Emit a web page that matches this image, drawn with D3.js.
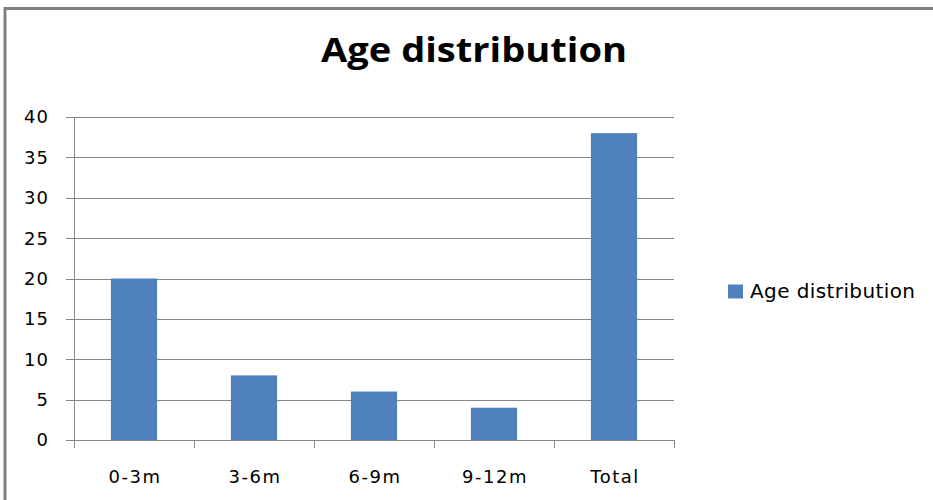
<!DOCTYPE html>
<html>
<head>
<meta charset="utf-8">
<script src="https://cdn.jsdelivr.net/npm/d3@7"></script>
<style>
  html, body { margin: 0; background: #fff; overflow: hidden; }
  svg { display: block; }
</style>
</head>
<body>
<svg id="chart"></svg>
<script>
const categories = ["0-3m", "3-6m", "6-9m", "9-12m", "Total"];
const values = [20, 8, 6, 4, 38];
const yTicks = [0, 5, 10, 15, 20, 25, 30, 35, 40];
const seriesName = "Age distribution";
const title = "Age distribution";

const width = 933;
const height = 500;
const barColor = "#4f81bd";
const gridColor = "#868686";

const svg = d3.select("#chart").attr("width", width).attr("height", height);

// outer frame: only the top and left edges show, the rest is off-page
svg
  .append("path")
  .attr("d", "M5," + height + "V8.5H" + width)
  .attr("fill", "none")
  .attr("stroke", "#808080")
  .attr("stroke-width", 3);

const x = d3
  .scaleBand()
  .domain(categories)
  .range([74, 674])
  .paddingInner(0.615)
  .paddingOuter(0.3075);

const y = d3.scaleLinear().domain([0, 40]).range([440, 117]);

// gridlines + y ticks
svg
  .selectAll(".grid")
  .data(yTicks)
  .enter()
  .append("line")
  .attr("class", "grid")
  .attr("x1", 66)
  .attr("x2", (d) => (d === 0 ? 74 : 674))
  .attr("y1", (d) => Math.round(y(d)) + 0.5)
  .attr("y2", (d) => Math.round(y(d)) + 0.5)
  .attr("stroke", gridColor)
  .attr("stroke-width", 1);

svg
  .selectAll(".ylabel")
  .data(yTicks)
  .enter()
  .append("text")
  .attr("class", "ylabel")
  .attr("x", 49)
  .attr("y", (d) => y(d))
  .attr("dy", "0.36em")
  .attr("text-anchor", "end")
  .style("font-family", "DejaVu Sans")
  .style("font-size", "18px")
  .style("letter-spacing", "1px")
  .style("fill", "#000")
  .text((d) => d);

// bars
svg
  .selectAll(".bar")
  .data(values)
  .enter()
  .append("rect")
  .attr("class", "bar")
  .attr("x", (d, i) => x(categories[i]))
  .attr("y", (d) => y(d))
  .attr("width", x.bandwidth())
  .attr("height", (d) => y(0) - y(d))
  .attr("fill", barColor);

// axis lines
svg
  .append("line")
  .attr("x1", 74.5)
  .attr("x2", 74.5)
  .attr("y1", y(40))
  .attr("y2", 448)
  .attr("stroke", gridColor);

svg
  .append("line")
  .attr("x1", 74)
  .attr("x2", 675)
  .attr("y1", Math.round(y(0)) + 0.5)
  .attr("y2", Math.round(y(0)) + 0.5)
  .attr("stroke", gridColor);

const gap = (x.step() - x.bandwidth()) / 2;
const bounds = categories.map((c) => x(c) - gap).concat([x.range()[1]]);
svg
  .selectAll(".xtick")
  .data(bounds)
  .enter()
  .append("line")
  .attr("class", "xtick")
  .attr("x1", (d) => Math.round(d) + 0.5)
  .attr("x2", (d) => Math.round(d) + 0.5)
  .attr("y1", y(0))
  .attr("y2", 448)
  .attr("stroke", gridColor);

svg
  .selectAll(".xlabel")
  .data(categories)
  .enter()
  .append("text")
  .attr("class", "xlabel")
  .attr("x", (d) => x(d) + x.bandwidth() / 2 + 1)
  .attr("y", 483)
  .attr("text-anchor", "middle")
  .style("font-family", "DejaVu Sans")
  .style("font-size", "18px")
  .style("letter-spacing", "1.5px")
  .style("fill", "#000")
  .text((d) => d);

// title
svg
  .append("text")
  .attr("x", 474)
  .attr("y", 62)
  .attr("text-anchor", "middle")
  .attr("textLength", 306)
  .attr("lengthAdjust", "spacingAndGlyphs")
  .style("font-family", "Open Sans")
  .style("font-weight", "bold")
  .style("font-size", "34px")
  .style("fill", "#000")
  .text(title);

// legend
svg
  .append("rect")
  .attr("x", 728)
  .attr("y", 284.5)
  .attr("width", 15)
  .attr("height", 14)
  .attr("fill", barColor);

svg
  .append("text")
  .attr("x", 750)
  .attr("y", 298)
  .style("font-family", "DejaVu Sans")
  .style("font-size", "20px")
  .style("letter-spacing", "0.4px")
  .style("fill", "#000")
  .text(seriesName);
</script>
</body>
</html>
